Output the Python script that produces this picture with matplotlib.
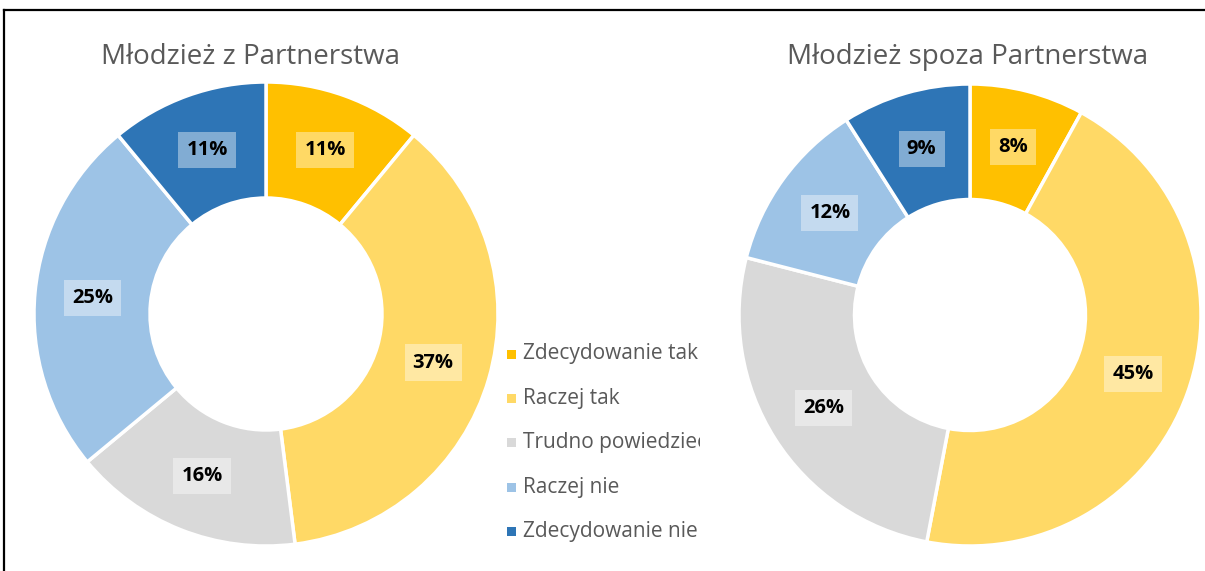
import numpy as np
import matplotlib.pyplot as plt
from matplotlib.lines import Line2D
from matplotlib.patches import Rectangle

# data
categories = ['Zdecydowanie tak', 'Raczej tak', 'Trudno powiedzieć', 'Raczej nie', 'Zdecydowanie nie']
colors = ['#FFC000', '#FFD966', '#D9D9D9', '#9DC3E6', '#2E75B6']
titles = ['Młodzież z Partnerstwa', 'Młodzież spoza Partnerstwa']
partnerstwo = [11, 37, 16, 25, 11]
spoza = [8, 45, 26, 12, 9]

W, H = 1205, 571
fig = plt.figure(figsize=(W / 100, H / 100), dpi=100)
plt.rcParams['font.family'] = ['Open Sans', 'DejaVu Sans']

# frame (cropped border)
fig.add_artist(Line2D([4 / W, 1], [1 - 10 / H, 1 - 10 / H], color='black', lw=1.6))
fig.add_artist(Line2D([4 / W, 4 / W], [0, 1 - 10 / H], color='black', lw=1.6))


def donut(cx, cy, r, vals, title, tx):
    ax = fig.add_axes([(cx - r) / W, (H - cy - r) / H, 2 * r / W, 2 * r / H])
    wedges, _ = ax.pie(vals, colors=colors, startangle=90, counterclock=False,
                       radius=1, wedgeprops=dict(width=0.5, edgecolor='white', linewidth=2.5))
    ang0 = 90
    for v in vals:
        mid = np.radians(ang0 - v * 3.6 / 2)
        ax.text(0.75 * np.cos(mid), 0.75 * np.sin(mid), f'{v}%', ha='center', va='center',
                fontsize=14.5, fontweight='bold', color='black',
                bbox=dict(boxstyle='square,pad=0.4', fc='white', ec='none', alpha=0.4))
        ang0 -= v * 3.6
    ax.set_xlim(-1, 1)
    ax.set_ylim(-1, 1)
    ax.set_aspect('equal')
    ax.axis('off')
    fig.text(tx / W, 1 - 57 / H, title, ha='center', va='center', fontsize=20, color='#595959')


donut(266, 314, 232, partnerstwo, titles[0], 250)
donut(970, 315, 231, spoza, titles[1], 968)

# legend, clipped at the right like the original
lax = fig.add_axes([505 / W, 0, (700 - 505) / W, 1])
lax.set_xlim(505, 700)
lax.set_ylim(H, 0)
lax.axis('off')
for i, (c, lab) in enumerate(zip(colors, categories)):
    y = 354 + i * 44.4
    lax.add_patch(Rectangle((507, y - 4.5), 9, 9, fc=c, ec='none'))
    lax.text(523, y, lab, ha='left', va='center', fontsize=15, color='#595959', clip_on=True)

fig.savefig('out.png', dpi=100)
